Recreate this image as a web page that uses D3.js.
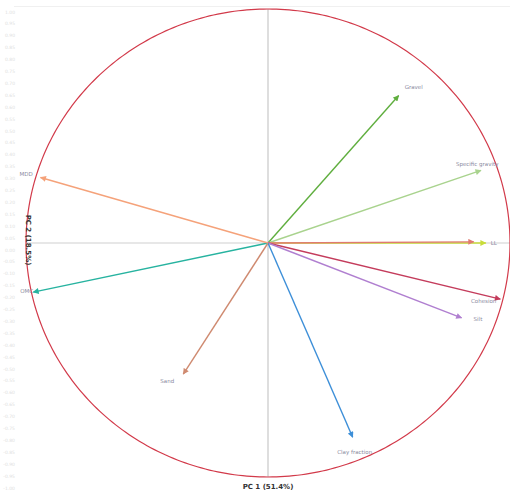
<!DOCTYPE html>
<html>
<head>
<meta charset="utf-8">
<script src="https://cdn.jsdelivr.net/npm/d3@7"></script>
<style>
  html, body { margin: 0; padding: 0; background: #fff; }
  svg { display: block; }
</style>
</head>
<body>
<svg id="chart" width="510" height="493"></svg>
<script>
// Variable loadings on the first two principal components
const variables = ["Gravel", "Specific gravity", "LL", "", "Cohesion", "Silt", "Clay fraction", "Sand", "OMC", "MDD"];
const pc1 = [0.54, 0.88, 0.90, 0.85, 0.96, 0.80, 0.35, -0.35, -0.97, -0.94];
const pc2 = [0.63, 0.31, 0.00, 0.005, -0.24, -0.32, -0.83, -0.56, -0.21, 0.28];
const colors = ["#5fae3e", "#a9d38e", "#c9dc3a", "#e07a70", "#c43c5c", "#b07fd0", "#3d8fd8", "#cf8a70", "#27b3a0", "#f5a27a"];
// label offsets (px) relative to each arrow tip
const labelNudge = [[6, -7, "start"], [-25, -4, "start"], [5, 2, "start"], [0, 0, "start"], [-4, 4, "end"], [12, 3, "start"], [2, 17, "middle"], [-23, 9, "start"], [-13, 1, "start"], [-21, -1, "start"]];
const xTitle = "PC 1 (51.4%)";
const yTitle = "PC 2 (18.5%)";
const sideTicks = d3.range(-1, 1.0001, 0.05).map(v => +v.toFixed(2));

const svg = d3.select("#chart");
const x = d3.scaleLinear().domain([-1, 1]).range([26, 510]);
const y = d3.scaleLinear().domain([-1, 1]).range([477, 9]);

// faint frame line along the top and faint tick text on the left
svg.append("line").attr("x1", 14).attr("x2", 510).attr("y1", 6.5).attr("y2", 6.5)
  .attr("stroke", "#f0f0f0").attr("stroke-width", 1);
const ys = d3.scaleLinear().domain([-1, 1]).range([488, 12]);
svg.append("g").selectAll("text").data(sideTicks).join("text")
  .attr("x", 15).attr("y", d => ys(d) + 1.5).attr("text-anchor", "end")
  .attr("font-family", "DejaVu Sans, sans-serif").attr("font-size", 4.5)
  .attr("fill", "#e0e0e0").text(d => d.toFixed(2));

// zero axes
svg.append("line").attr("x1", x(-1)).attr("x2", 510).attr("y1", y(0)).attr("y2", y(0))
  .attr("stroke", "#cfcfcf").attr("stroke-width", 1);
svg.append("line").attr("x1", x(0)).attr("x2", x(0)).attr("y1", y(1)).attr("y2", y(-1))
  .attr("stroke", "#bdbdbd").attr("stroke-width", 1);

// unit correlation circle
const angles = d3.range(0, 361, 1).map(a => a * Math.PI / 180);
svg.append("path")
  .datum(angles)
  .attr("d", d3.line().x(a => x(Math.cos(a))).y(a => y(Math.sin(a))))
  .attr("fill", "none").attr("stroke", "#d23a4a").attr("stroke-width", 1.2);

// arrowheads, one marker per colour
const defs = svg.append("defs");
colors.forEach((c, i) => {
  defs.append("marker").attr("id", "arr" + i)
    .attr("viewBox", "0 -5 10 10").attr("refX", 9).attr("refY", 0)
    .attr("markerWidth", 7).attr("markerHeight", 6).attr("markerUnits", "userSpaceOnUse")
    .attr("orient", "auto")
    .append("path").attr("d", "M0,-5L10,0L0,5Z").attr("fill", c);
});

const data = variables.map((v, i) => ({ name: v, px: pc1[i], py: pc2[i], color: colors[i], nudge: labelNudge[i], i }));

svg.append("g").selectAll("line").data(data).join("line")
  .attr("x1", x(0)).attr("y1", y(0))
  .attr("x2", d => x(d.px)).attr("y2", d => y(d.py))
  .attr("stroke", d => d.color).attr("stroke-width", 1.4)
  .attr("marker-end", d => `url(#arr${d.i})`);

svg.append("g").selectAll("text").data(data.filter(d => d.name)).join("text")
  .attr("x", d => x(d.px) + d.nudge[0]).attr("y", d => y(d.py) + d.nudge[1])
  .attr("text-anchor", d => d.nudge[2])
  .attr("font-family", "DejaVu Sans, sans-serif").attr("font-size", 5.5)
  .attr("fill", "#8a8aa0").text(d => d.name);

// axis titles
svg.append("text").attr("x", x(0)).attr("y", 489).attr("text-anchor", "middle")
  .attr("font-family", "DejaVu Sans, sans-serif").attr("font-size", 7).attr("font-weight", "bold")
  .attr("fill", "#333").text(xTitle);
svg.append("text").attr("transform", `translate(26,${y(0) - 3}) rotate(90)`).attr("text-anchor", "middle")
  .attr("font-family", "DejaVu Sans, sans-serif").attr("font-size", 7).attr("font-weight", "bold")
  .attr("fill", "#333").text(yTitle);
</script>
</body>
</html>
